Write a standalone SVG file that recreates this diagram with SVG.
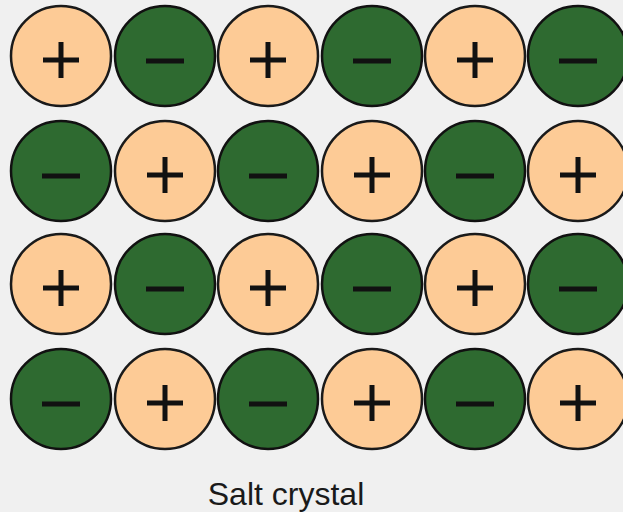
<svg xmlns="http://www.w3.org/2000/svg" width="623" height="512" viewBox="0 0 623 512">
<defs>
<style>
.pos{fill:#fdcb96;stroke:#1a1a1a;stroke-width:2.5}
.neg{fill:#2e6a30;stroke:#111;stroke-width:2.5}
.sign{stroke:#111;stroke-width:5;fill:none}
.lbl{font-family:"Liberation Sans",Arial,sans-serif;font-size:32px;fill:#1a1a1a}
</style>
<g id="p"><circle class="pos" r="50"/><path class="sign" d="M-18 4H18M0 -14V22"/></g>
<g id="m"><circle class="neg" r="50"/><path class="sign" d="M-19 5H19" stroke-width="6"/></g>
</defs>
<rect width="623" height="512" fill="#f0f0f0"/>
<g id="row1">
<use id="n11" href="#p" x="61" y="56"/>
<use id="n12" href="#m" x="165" y="56"/>
<use id="n13" href="#p" x="268" y="56"/>
<use id="n14" href="#m" x="372" y="56"/>
<use id="n15" href="#p" x="475" y="56"/>
<use id="n16" href="#m" x="578" y="56"/>
</g>
<g id="row2">
<use id="n21" href="#m" x="61" y="171"/>
<use id="n22" href="#p" x="165" y="171"/>
<use id="n23" href="#m" x="268" y="171"/>
<use id="n24" href="#p" x="372" y="171"/>
<use id="n25" href="#m" x="475" y="171"/>
<use id="n26" href="#p" x="578" y="171"/>
</g>
<g id="row3">
<use id="n31" href="#p" x="61" y="284"/>
<use id="n32" href="#m" x="165" y="284"/>
<use id="n33" href="#p" x="268" y="284"/>
<use id="n34" href="#m" x="372" y="284"/>
<use id="n35" href="#p" x="475" y="284"/>
<use id="n36" href="#m" x="578" y="284"/>
</g>
<g id="row4">
<use id="n41" href="#m" x="61" y="399"/>
<use id="n42" href="#p" x="165" y="399"/>
<use id="n43" href="#m" x="268" y="399"/>
<use id="n44" href="#p" x="372" y="399"/>
<use id="n45" href="#m" x="475" y="399"/>
<use id="n46" href="#p" x="578" y="399"/>
</g>
<g id="connectors"/>
<text class="lbl" x="286" y="505" text-anchor="middle">Salt crystal</text>
</svg>
